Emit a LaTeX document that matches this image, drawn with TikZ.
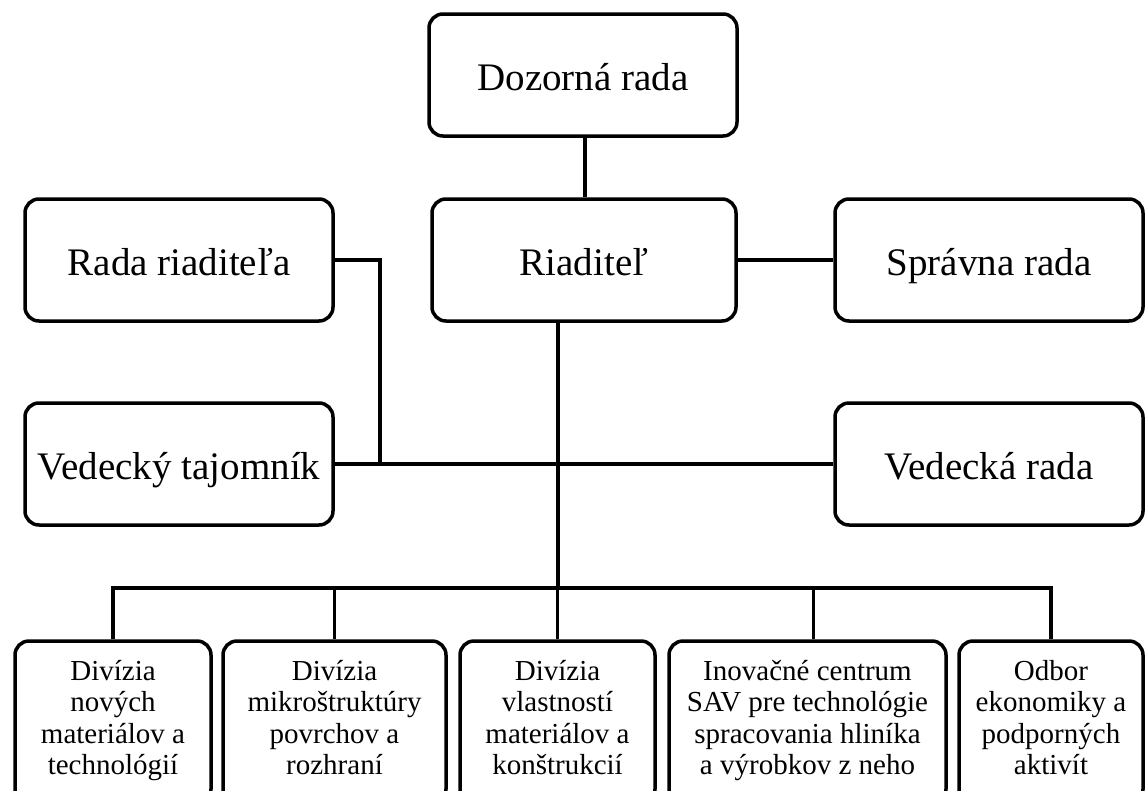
\documentclass[tikz,border=0pt]{standalone}
\usepackage{fontspec}
\setmainfont{Liberation Serif}

\begin{document}
\begin{tikzpicture}[x=1pt,y=-1pt,
  boxbase/.style={draw=black,line width=3.5pt,rounded corners=14pt,fill=white,inner sep=0pt},
  unitbox/.style={boxbase,minimum width=308pt,minimum height=122pt,
    text height=36pt,text depth=5pt,font=\fontsize{39}{46}\selectfont},
  divbox/.style={boxbase,align=center,minimum height=162pt,font=\fontsize{29}{31.5}\selectfont,
    execute at begin node=\strut,execute at end node=\strut},
  link/.style={draw=black,line width=3.5pt}]
  \useasboundingbox (0,0) rectangle (1148,790);
  \clip (0,0) rectangle (1148,790);
  % upper units
  \node[unitbox] (dozor) at (583,75) {Dozorná rada};
  \node[unitbox,minimum width=304pt] (riad) at (584,260) {Riaditeľ};
  \node[unitbox] (radar) at (179,260) {Rada riaditeľa};
  \node[unitbox] (sprav) at (989,260) {Správna rada};
  \node[unitbox] (tajom) at (179,464) {Vedecký tajomník};
  \node[unitbox] (vrada) at (989,464) {Vedecká rada};
  % divisions
  \node[divbox,minimum width=196pt] (div1) at (113,722) {Divízia\\nových\\materiálov a\\technológií};
  \node[divbox,minimum width=223pt] (div2) at (334.5,722) {Divízia\\mikroštruktúry\\povrchov a\\rozhraní};
  \node[divbox,minimum width=195pt] (div3) at (557.5,722) {Divízia\\vlastností\\materiálov a\\konštrukcií};
  \node[divbox,minimum width=277pt] (div4) at (807.5,722) {Inovačné centrum\\SAV pre technológie\\spracovania hliníka\\a výrobkov z neho};
  \node[divbox,minimum width=184pt] (div5) at (1051,722) {Odbor\\ekonomiky a\\podporných\\aktivít};
  \coordinate (bus) at (558,588);
  % links
  \draw[link] ([xshift=2pt]dozor.south) -- ([xshift=2pt]dozor.south |- riad.north);
  \draw[link] (riad.east) -- (sprav.west);
  \draw[link] (radar.east) -- ++(45,0) |- (tajom.east);
  \draw[link] (tajom.east) -- (vrada.west);
  \draw[link] (riad.south -| bus) -- (bus);
  \draw[link] (div1.north) |- (bus) -| (div5.north);
  \draw[link] (div2.north) -- (div2.north |- bus);
  \draw[link] (div3.north) -- (div3.north |- bus);
  \draw[link] ([xshift=6pt]div4.north) -- ([xshift=6pt]div4.north |- bus);
\end{tikzpicture}
\end{document}
